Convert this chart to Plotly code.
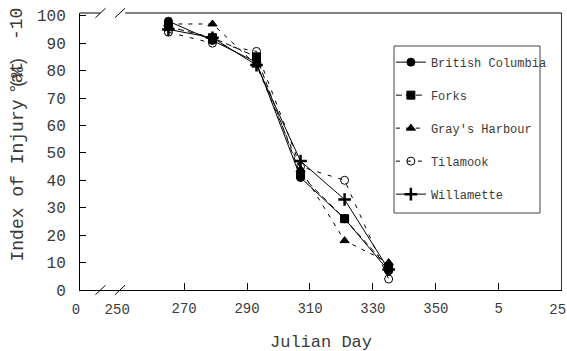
import plotly.graph_objects as go

# Data
days = [265, 279, 293, 307, 321, 335]
british_columbia = [98, 91, 83, 41, 26, 7]
forks = [96, 92, 85, 42, 26, 8]
grays_harbour = [97, 97, 82, 44, 18, 10]
tilamook = [94, 90, 87, 45, 40, 4]
willamette = [95, 92, 82, 47, 33, 7.5]

tick_vals = [270, 290, 310, 330, 350, 370]
tick_text = ["270", "290", "310", "330", "350", "5"]
edge_vals = [236.9, 250, 390]
edge_text = ["0", "250", "25"]
y_ticks = [0, 10, 20, 30, 40, 50, 60, 70, 80, 90, 100]

FONT = "Liberation Mono, Courier New, monospace"
TXT = "#3a3a3a"

series = [
    ("British Columbia", british_columbia, "circle", "solid"),
    ("Forks", forks, "square", "6px,4px"),
    ("Gray's Harbour", grays_harbour, "triangle-up", "4px,6px"),
    ("Tilamook", tilamook, "circle-open", "4px,7px"),
    ("Willamette", willamette, "cross-thin", "solid"),
]

fig = go.Figure()
for i, (name, vals, sym, dash) in enumerate(series):
    mk = dict(symbol=sym, size=8, color="black", line=dict(color="black", width=1))
    if sym == "cross-thin":
        mk = dict(symbol="cross-thin", size=9, color="black", line=dict(color="black", width=2.5))
    fig.add_trace(go.Scatter(
        x=days, y=vals, name=name, mode="lines+markers",
        line=dict(color="black", width=1, dash=dash),
        marker=mk, legendgroup=f"g{i}",
    ))

# hidden trace on second axis carrying the "0" / "250" / "25" labels
fig.add_trace(go.Scatter(x=[270], y=[0], xaxis="x2", showlegend=False,
                         mode="markers", marker=dict(opacity=0), hoverinfo="skip"))

xr = [236.9, 390.1]
tickfont = dict(size=14, family=FONT, color=TXT)
fig.update_layout(
    template="none",
    width=567, height=351,
    margin=dict(l=80, r=5, t=13, b=61),
    paper_bgcolor="white", plot_bgcolor="white",
    font=dict(family=FONT, color=TXT),
    showlegend=True,
    legend=dict(x=0.645, y=0.875, xanchor="left", yanchor="top",
                bgcolor="rgba(0,0,0,0)", borderwidth=0,
                font=dict(size=12, family=FONT, color=TXT),
                traceorder="grouped", tracegroupgap=14, itemwidth=30),
    xaxis=dict(range=xr, tickvals=tick_vals, ticktext=tick_text, ticks="inside",
               ticklen=7, tickwidth=1, tickcolor="#000000", automargin=False,
               showgrid=False, zeroline=False, showline=True, linecolor="black",
               linewidth=1, tickfont=tickfont, ticklabelstandoff=5),
    xaxis2=dict(range=xr, overlaying="x", anchor="y", side="bottom",
                tickvals=edge_vals, ticktext=edge_text, automargin=False,
                ticks="", showticklabels=True, tickfont=tickfont, ticklabelstandoff=9,
                ticklabelshift=-4, ticklabeloverflow="allow",
                showgrid=False, zeroline=False, showline=False),
    yaxis=dict(range=[0, 101], tickvals=y_ticks, ticks="inside", ticklen=6,
               tickwidth=1, tickcolor="#000000", automargin=False,
               showgrid=False, zeroline=False, showline=True,
               linecolor="black", linewidth=1, ticklabelstandoff=10,
               tickfont=dict(size=16, family=FONT, color=TXT)),
)

# frame: right border, top border with break
shapes = [
    dict(type="line", xref="x", yref="paper", x0=390, x1=390, y0=0, y1=1,
         line=dict(color="black", width=1)),
    dict(type="line", xref="x", yref="paper", x0=236.9, x1=243.3, y0=1, y1=1,
         line=dict(color="black", width=1)),
    dict(type="line", xref="x", yref="paper", x0=251.3, x1=390, y0=1, y1=1,
         line=dict(color="black", width=1)),
]
for xc in [243.4, 249.6]:
    for yp in [0, 1]:
        shapes.append(dict(type="line", xref="x", yref="paper",
                           x0=xc - 1.6, x1=xc + 1.6, y0=yp - 0.017, y1=yp + 0.017,
                           line=dict(color="black", width=1)))
# legend box
shapes.append(dict(type="rect", xref="paper", yref="paper",
                   x0=(394 - 80) / 482, x1=(540 - 80) / 482,
                   y0=(290 - 213) / 277, y1=(290 - 46) / 277,
                   line=dict(color="#444", width=1), fillcolor="rgba(0,0,0,0)"))
fig.update_layout(shapes=shapes)

# x title
fig.add_annotation(text="Julian Day", xref="paper", yref="paper",
                   x=(321 - 80) / 482, y=(290 - 342) / 277, xanchor="center",
                   yanchor="middle", showarrow=False,
                   font=dict(size=17, family=FONT, color=TXT))
# y title (overlapping pieces as in the reference)
fig.add_annotation(text="Index of Injury (%)", xref="paper", yref="paper",
                   x=(17 - 80) / 482, y=(290 - 264) / 277, xanchor="center",
                   yanchor="bottom", textangle=-90, showarrow=False,
                   font=dict(size=18, family=FONT, color=TXT))
fig.add_annotation(text="°at  -10", xref="paper", yref="paper",
                   x=(17 - 80) / 482, y=(290 - 6) / 277, xanchor="center",
                   yanchor="top", textangle=-90, showarrow=False,
                   font=dict(size=18, family=FONT, color=TXT))

fig.write_html("out.html")
